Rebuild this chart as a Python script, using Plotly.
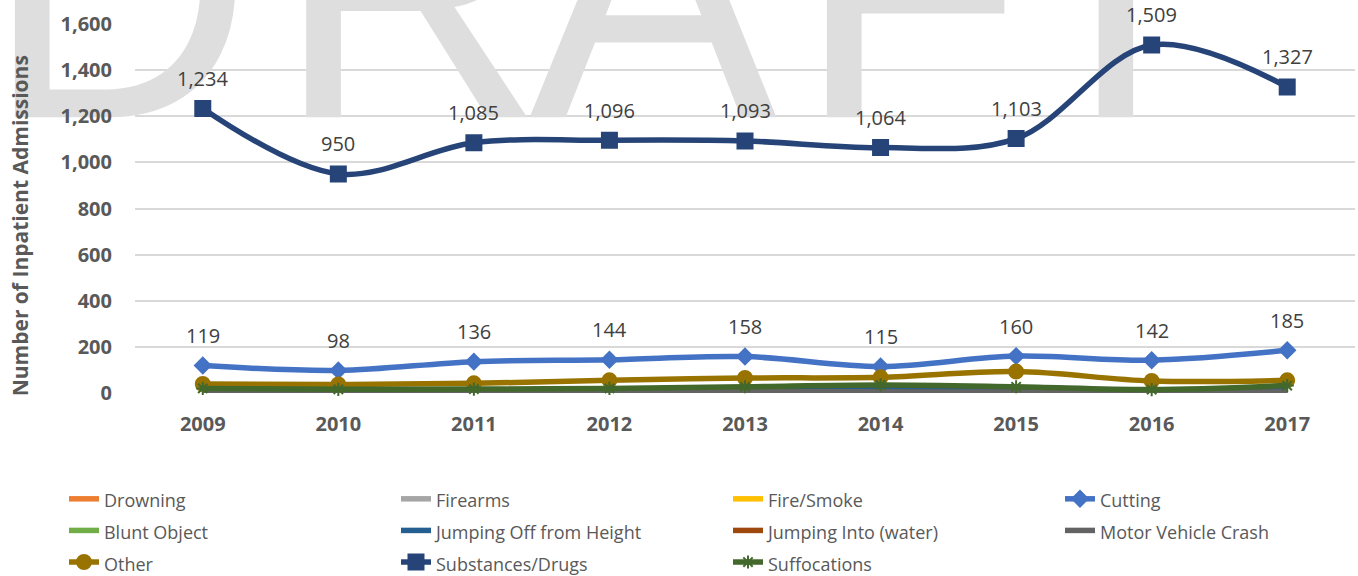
import plotly.graph_objects as go

# --- data ---
years = [2009, 2010, 2011, 2012, 2013, 2014, 2015, 2016, 2017]
year_labels = [str(y) for y in years]

drowning = [2, 1, 2, 1, 2, 1, 2, 1, 1]
firearms = [3, 2, 2, 3, 2, 3, 2, 2, 3]
fire_smoke = [1, 2, 1, 1, 2, 1, 1, 2, 1]
cutting = [119, 98, 136, 144, 158, 115, 160, 142, 185]
blunt_object = [2, 1, 2, 2, 1, 2, 1, 1, 2]
jumping_off = [10, 8, 12, 11, 18, 20, 12, 9, 11]
jumping_into = [1, 0, 1, 1, 0, 1, 0, 1, 0]
motor_vehicle = [4, 3, 5, 4, 6, 5, 4, 3, 5]
other = [39, 37, 42, 55, 65, 68, 93, 52, 55]
substances = [1234, 950, 1085, 1096, 1093, 1064, 1103, 1509, 1327]
suffocations = [20, 16, 17, 20, 27, 35, 27, 15, 32]

y_ticks = [0, 200, 400, 600, 800, 1000, 1200, 1400, 1600]

GREY_TXT = "#595959"
FONT = "Open Sans"

# plot area in pixels (margins below) -> used to place the watermark letters
PLOT_L, PLOT_W = 135, 1220
X_MIN, X_MAX = 2008.5, 2017.5


def px_to_x(px):
    return X_MIN + (px - PLOT_L) / PLOT_W * (X_MAX - X_MIN)


fig = go.Figure()

# "DRAFT" watermark, drawn first so the series sit on top of it
wm_letters = ["D", "R", "A", "F", "T"]
wm_px = [253, 410, 653, 910, 1116]
wm_pos = ["middle left", "middle center", "middle center", "middle center", "middle center"]
fig.add_trace(go.Scatter(
    x=[px_to_x(p) for p in wm_px], y=[1599] * 5, mode="text", text=wm_letters,
    textposition=wm_pos,
    textfont=dict(family="Liberation Sans", size=372, color="#dedede"),
    cliponaxis=False, showlegend=False, hoverinfo="skip"
))

series = [
    ("Drowning", drowning, "#ED7D31", None),
    ("Firearms", firearms, "#A5A5A5", None),
    ("Fire/Smoke", fire_smoke, "#FFC000", None),
    ("Cutting", cutting, "#4472C4", "diamond"),
    ("Blunt Object", blunt_object, "#70AD47", None),
    ("Jumping Off from Height", jumping_off, "#255E91", None),
    ("Jumping Into (water)", jumping_into, "#9E480E", None),
    ("Motor Vehicle Crash", motor_vehicle, "#636363", None),
    ("Other", other, "#997300", "circle"),
    ("Substances/Drugs", substances, "#264478", "square"),
    ("Suffocations", suffocations, "#43682B", "asterisk-open"),
]
marker_sizes = {"diamond": 12, "circle": 14, "square": 15, "asterisk-open": 11}

for name, vals, color, symbol in series:
    label = f'<span style="font-size:18px">{name}</span>'
    if symbol is None:
        fig.add_trace(go.Scatter(
            x=years, y=vals, name=label, mode="lines",
            line=dict(color=color, width=5.5, shape="spline"),
            cliponaxis=False
        ))
    else:
        fig.add_trace(go.Scatter(
            x=years, y=vals, name=label, mode="lines+markers",
            line=dict(color=color, width=5.5, shape="spline"),
            marker=dict(symbol=symbol, size=marker_sizes[symbol], color=color,
                        line=dict(color=color, width=2)),
            cliponaxis=False
        ))

# data labels for the two big series
for vals in (substances, cutting):
    for x, v in zip(years, vals):
        fig.add_annotation(
            x=x, y=v, text=f"{v:,}", showarrow=False, yshift=30,
            font=dict(family=FONT, size=20, color="#404040")
        )

# y axis title
fig.add_annotation(
    xref="paper", yref="paper", x=-0.094, y=0.4526,
    xanchor="center", yanchor="middle", textangle=-90, showarrow=False,
    text="Number of Inpatient Admissions",
    font=dict(family=FONT, size=21, color=GREY_TXT, weight="bold")
)

fig.update_layout(
    width=1358, height=576,
    paper_bgcolor="white", plot_bgcolor="white",
    margin=dict(l=PLOT_L, r=1358 - PLOT_L - PLOT_W, t=24, b=183, autoexpand=False),
    font=dict(family=FONT, color=GREY_TXT),
    xaxis=dict(
        range=[X_MIN, X_MAX], tickvals=years, ticktext=year_labels,
        showgrid=False, zeroline=False, showline=False, ticks="",
        tickfont=dict(family=FONT, size=20, color=GREY_TXT, weight="bold"),
        ticklabelstandoff=17
    ),
    yaxis=dict(
        range=[0, 1600], tickvals=y_ticks, tickformat=",",
        showgrid=True, gridcolor="#d9d9d9", gridwidth=1.5,
        zeroline=False, showline=False, ticks="",
        tickfont=dict(family=FONT, size=20, color=GREY_TXT, weight="bold"),
        ticklabelstandoff=22
    ),
    legend=dict(
        orientation="h", x=-0.0582, y=-0.2304, xanchor="left", yanchor="top",
        entrywidth=287, font=dict(family=FONT, size=22, color=GREY_TXT),
        bgcolor="rgba(0,0,0,0)"
    ),
    showlegend=True
)

fig.write_html("out.html", config={"displayModeBar": False},
               post_script="document.body.style.margin='0';")
